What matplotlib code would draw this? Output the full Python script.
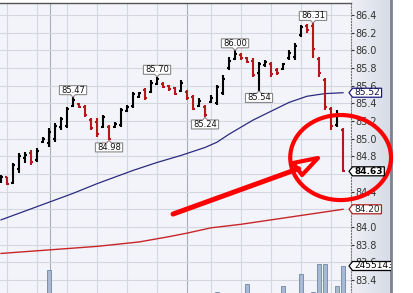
import numpy as np
import matplotlib
matplotlib.use('Agg')
import matplotlib.pyplot as plt
from matplotlib.path import Path
from matplotlib.patches import Ellipse, Polygon
from matplotlib.colors import LinearSegmentedColormap
from matplotlib.transforms import blended_transform_factory


# daily OHLC bars, oldest first
opens = [84.52, 84.56, 84.50, 84.66, 84.78, 84.84, 84.76, 84.96, 84.95, 85.00,
         85.13, 85.14, 85.37, 85.39, 85.36, 85.21, 85.19, 85.13, 85.13, 85.13,
         85.15, 85.31, 85.37, 85.47, 85.55, 85.53, 85.62, 85.62, 85.60, 85.57,
         85.54, 85.53, 85.47, 85.37, 85.36, 85.41, 85.40, 85.52, 85.80, 85.90,
         85.95, 85.91, 85.88, 85.74, 85.83, 85.85, 85.78, 85.79, 85.91, 85.93,
         86.17, 86.27, 86.28, 85.90, 85.66, 85.33, 85.15, 85.10]
highs = [84.59, 84.57, 84.72, 84.84, 84.85, 84.87, 84.89, 85.02, 85.12, 85.18,
         85.25, 85.36, 85.47, 85.40, 85.38, 85.23, 85.23, 85.27, 85.15, 85.19,
         85.35, 85.38, 85.53, 85.53, 85.57, 85.66, 85.70, 85.64, 85.61, 85.58,
         85.66, 85.55, 85.49, 85.46, 85.38, 85.49, 85.61, 85.72, 85.92, 86.00,
         85.97, 85.92, 85.91, 85.87, 85.89, 85.87, 85.80, 85.86, 86.00, 86.08,
         86.29, 86.30, 86.31, 85.92, 85.69, 85.36, 85.32, 85.12]
lows = [84.50, 84.48, 84.49, 84.61, 84.72, 84.70, 84.74, 84.95, 84.91, 84.96,
        85.10, 85.12, 85.36, 85.35, 85.25, 85.10, 85.02, 85.12, 84.98, 85.12,
        85.13, 85.30, 85.35, 85.46, 85.44, 85.52, 85.61, 85.57, 85.54, 85.49,
        85.53, 85.44, 85.32, 85.36, 85.24, 85.40, 85.38, 85.49, 85.78, 85.89,
        85.89, 85.86, 85.70, 85.54, 85.81, 85.70, 85.72, 85.78, 85.89, 85.89,
        86.15, 86.20, 85.91, 85.70, 85.32, 85.10, 85.13, 84.62]
closes = [84.57, 84.49, 84.70, 84.80, 84.82, 84.74, 84.86, 85.00, 85.08, 85.14,
          85.22, 85.33, 85.44, 85.36, 85.27, 85.12, 85.05, 85.24, 85.00, 85.17,
          85.32, 85.36, 85.50, 85.52, 85.46, 85.63, 85.67, 85.59, 85.56, 85.50,
          85.63, 85.46, 85.34, 85.43, 85.27, 85.46, 85.58, 85.68, 85.88, 85.96,
          85.91, 85.87, 85.72, 85.84, 85.87, 85.73, 85.74, 85.84, 85.97, 86.05,
          86.26, 86.23, 86.02, 85.74, 85.36, 85.14, 85.28, 84.63]

# labelled swing highs / lows (bar numbers)
peak_idx = [12, 26, 39, 52]
trough_idx = [18, 34, 43]

# moving averages read at some bars
ma_blue_idx = [0, 8, 12, 16, 18, 22, 26, 30, 34, 36, 38, 42, 45, 48, 51, 54, 57]
ma_blue = [84.08, 84.28, 84.38, 84.49, 84.54, 84.64, 84.73, 84.81, 84.90, 84.96,
           85.05, 85.21, 85.31, 85.41, 85.48, 85.51, 85.52]
ma_red_idx = [0, 8, 16, 23, 28, 31, 35, 40, 45, 49, 57]
ma_red = [83.70, 83.74, 83.78, 83.83, 83.89, 83.93, 83.99, 84.03, 84.08, 84.12, 84.20]

# volume (only the bars that reach into view)
vol_idx = [8, 36, 41, 47, 50, 52, 53, 54, 56, 57]
volumes = [2310000, 1540000, 1820000, 1750000, 2170000, 1540000, 2530000, 2530000,
           1750000, 2455143]

# grid separators (bar numbers)
week_lines = [1, 6, 11, 16, 21, 26, 35, 40, 45, 50, 55]
month_lines = [8.2, 31]

# scale labels hidden under the value tags
hidden_ticks = ['84.2', '84.6']

W, H = 413, 293
PRICE_TOP = 86.536
PRICE_BOT = 83.252


def tag_box(x0, y0, w, h, mutation_size):
    pad = 0.18 * mutation_size
    x0, w = x0 - pad, w + 2 * pad
    tip = 0.4 * h
    verts = [(x0, y0), (x0 + w, y0), (x0 + w, y0 + h), (x0, y0 + h),
             (x0 - tip, y0 + h / 2), (x0, y0)]
    return Path(verts, closed=True)


def callout(down):
    def style(x0, y0, w, h, mutation_size):
        pad = 0.2 * mutation_size
        x0, w = x0 - pad, w + 2 * pad
        p = 0.3 * mutation_size
        cx = x0 + w / 2
        if down:
            verts = [(x0, y0), (cx - p, y0), (cx, y0 - p), (cx + p, y0),
                     (x0 + w, y0), (x0 + w, y0 + h), (x0, y0 + h), (x0, y0)]
        else:
            verts = [(x0, y0), (x0 + w, y0), (x0 + w, y0 + h), (cx + p, y0 + h),
                     (cx, y0 + h + p), (cx - p, y0 + h), (x0, y0 + h), (x0, y0)]
        return Path(verts, closed=True)
    return style


def price_fmt(v, pos):
    s = f'{v:.1f}'
    return '' if s in hidden_ticks else s


fig = plt.figure(figsize=(W / 100, H / 100), dpi=100)
fig.patch.set_facecolor('white')

# right scale panel
ax_panel = fig.add_axes([351 / W, 0, 40 / W, 1])
ax_panel.set_zorder(0)
grad = LinearSegmentedColormap.from_list('panel', ['#eef0f5', '#d6dbe6'])
ax_panel.imshow(np.linspace(0, 1, 64)[None, :], aspect='auto', cmap=grad,
                extent=(0, 1, PRICE_BOT, 86.57))
ax_panel.set_xlim(0, 1)
ax_panel.set_ylim(PRICE_BOT, 86.57)
ax_panel.set_xticks([])
ax_panel.set_yticks([])
for s in ['left', 'top', 'bottom']:
    ax_panel.spines[s].set_visible(False)
ax_panel.spines['right'].set_color('#7d828c')
ax_panel.spines['right'].set_linewidth(2)
ax_panel.text(0.075, 86.6, '86.6', fontsize=7, color='#333333', va='center',
              clip_on=True)

# price chart
ax = fig.add_axes([0, 0, 351 / W, 290 / H])
ax.set_zorder(1)
ax.set_facecolor('#f3f4f9')

ax_v = ax.twinx()
ax_v.set_zorder(1.5)
ax_v.bar(vol_idx, volumes, width=0.6, color='#a7b9d3', edgecolor='#6f86a8', lw=0.6)
ax_v.set_ylim(1.5e6, 1.5e6 + 290 * 35375)
ax_v.set_axis_off()

ax.set_xlim(-0.17, 58.33)
ax.set_ylim(PRICE_BOT, PRICE_TOP)

for x in week_lines:
    ax.axvline(x, color='#d3d7e0', lw=0.8, zorder=0)
for x in month_lines:
    ax.axvline(x, color='#a9adb8', lw=0.8, zorder=0)
ax.set_yticks(np.round(np.arange(83.4, 86.5, 0.2), 1))
ax.yaxis.grid(True, color='#d3d7e0', lw=0.8)
ax.set_axisbelow(True)
ax.set_xticks([])
ax.yaxis.tick_right()
ax.yaxis.set_major_formatter(plt.FuncFormatter(price_fmt))
ax.tick_params(axis='y', length=2.5, width=0.8, colors='#333333', labelsize=7, pad=1)
ax.spines['left'].set_visible(False)
ax.spines['bottom'].set_visible(False)
ax.spines['top'].set_color('#555555')
ax.spines['top'].set_linewidth(1.0)
ax.spines['right'].set_color('#777777')
ax.spines['right'].set_linestyle(':')

# moving averages
ax.plot(ma_red_idx, ma_red, color='#c8252a', lw=1.0, zorder=3)
ax.plot(ma_blue_idx, ma_blue, color='#2b2b80', lw=0.9, zorder=3)

# OHLC bars
o = np.array(opens)
c = np.array(closes)
idx = np.arange(len(c))
col = np.where(c >= o, '#000000', '#b41818')
ax.vlines(idx, lows, highs, colors=col, lw=1.5, zorder=4)
ax.hlines(o, idx - 0.38, idx, colors=col, lw=1.5, zorder=4)
ax.hlines(c, idx, idx + 0.38, colors=col, lw=1.5, zorder=4)

for i in peak_idx:
    ax.annotate(f'{highs[i]:.2f}', xy=(i, highs[i]), xytext=(0, 1.8),
                textcoords='offset points', ha='center', va='bottom', fontsize=6,
                color='#111111', zorder=6,
                bbox=dict(boxstyle=callout(True), fc='white', ec='#8a8a8a', lw=0.8))
for i in trough_idx:
    ax.annotate(f'{lows[i]:.2f}', xy=(i, lows[i]), xytext=(0, -1.8),
                textcoords='offset points', ha='center', va='top', fontsize=6,
                color='#111111', zorder=6,
                bbox=dict(boxstyle=callout(False), fc='white', ec='#8a8a8a', lw=0.8))

# hand drawn red circle and arrow
ax.add_patch(Ellipse((56.6, 84.786), 16.8, 0.963, fill=False, ec='red', lw=3.0,
                     clip_on=False, zorder=10))
ax.plot([28.67, 49.6], [84.146, 84.66], color='red', lw=3.6, zorder=10,
        solid_capstyle='round')
ax.add_patch(Polygon([(48.67, 84.724), (52.83, 84.781), (50.17, 84.588)], closed=True,
                     fill=False, ec='red', lw=3.0, joinstyle='round', zorder=10))

# value tags on the scale
ax_tags = fig.add_axes([345 / W, 0, 46 / W, 1])
ax_tags.set_zorder(3)
ax_tags.set_xlim(0, 1)
ax_tags.set_ylim(PRICE_BOT, 86.57)
ax_tags.set_axis_off()
tx = 0.2
ax_tags.text(tx, ma_blue[-1], f'{ma_blue[-1]:.2f}', fontsize=6.5, color='#10104a',
             va='center', ha='left', clip_on=True,
             bbox=dict(boxstyle=tag_box, fc='white', ec='#1a1a80', lw=0.9))
ax_tags.text(tx, ma_red[-1], f'{ma_red[-1]:.2f}', fontsize=6.5, color='#222222',
             va='center', ha='left', clip_on=True,
             bbox=dict(boxstyle=tag_box, fc='white', ec='#b22222', lw=0.9))
ax_tags.text(tx, closes[-1], f'{closes[-1]:.2f}', fontsize=6.5, color='black',
             fontweight='bold', va='center', ha='left', clip_on=True,
             bbox=dict(boxstyle=tag_box, fc='white', ec='black', lw=0.9))
vol_tr = blended_transform_factory(ax_tags.transAxes, ax_v.transData)
ax_tags.text(tx, volumes[-1], f'{volumes[-1]}', fontsize=6.5, color='black',
             va='center', ha='left', clip_on=True, transform=vol_tr,
             bbox=dict(boxstyle=tag_box, fc='white', ec='black', lw=0.9))

fig.savefig('out.png', dpi=100)
